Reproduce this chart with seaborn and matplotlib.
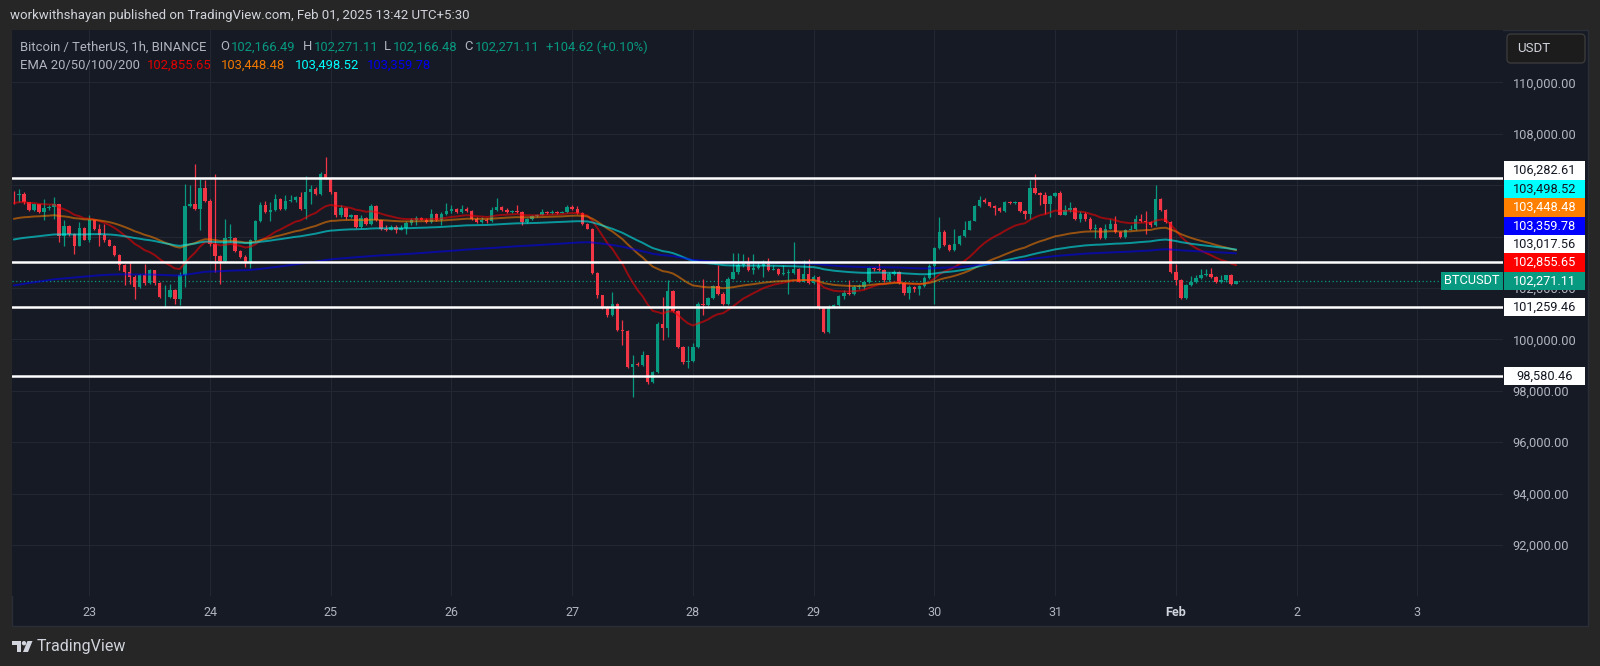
import matplotlib
matplotlib.use("Agg")
import matplotlib.pyplot as plt
import matplotlib.patches as mpatches
import matplotlib.transforms as mtransforms
import numpy as np
import pandas as pd
import seaborn as sns

# 1h candles, first one is Jan 22 09:00 (hour -15 counted from Jan 23 00:00)
FIRST_HOUR = -15
FIRST_OPEN = 105620

CLOSES = [
    105600, 105660, 105340, 105050, 105250, 104950, 105120, 105140, 105250, 104040,
    104400, 104110, 103650, 104330, 103870, 104630, 104280, 104070, 103850, 103650,
    103270, 102900, 102620, 102420, 102040, 102520, 102200, 102680, 102200, 101630,
    101660, 101930, 101580, 102520, 105180, 105250, 105080, 105890, 105400, 103720,
    103240, 103030, 103940, 103960, 103420, 103200, 102980, 103850, 104600, 105230,
    104950, 105050, 105470, 105080, 105400, 105430, 105530, 105080, 105730, 105860,
    105660, 106440, 106280, 105730, 104820, 105120, 104750,
    104820, 104370, 104730, 104500, 105180, 104630, 104300, 104260, 104370, 104240,
    104340, 104530, 104660, 104730, 104660, 104560, 104880, 104630, 104880, 104980,
    105080, 104950, 105080, 105010, 104690, 104560, 104650, 104590, 105040, 105140,
    105040, 104950, 104990, 104970, 104560, 104690, 104780, 104850, 104950, 104920,
    104950, 104920, 104950, 105140, 105080, 104920, 104500, 104300, 102590, 101710,
    101230, 100940, 101380, 100350, 100320, 98930, 99050, 99010, 99380, 98350,
    98740, 100590, 100450, 101880, 101100, 99710, 99100, 99160, 99710, 101390,
    101320, 101610, 102070, 101780, 101360, 102360, 102620, 102880, 102980, 102680,
    102770, 102850, 102940, 102710, 102750, 102550, 102570, 102590, 102750, 102250,
    102550, 102200, 102420, 101220, 100290, 101260, 101320, 101690, 101810, 101780,
    102030, 102050, 102230, 102770, 102720, 102710, 102290, 102550, 102620, 102200,
    101810, 102030, 101940, 102070, 102400, 102850, 103550, 104170, 103680, 103460,
    103720, 104020, 104260, 104620, 105180, 105440, 105340, 105180, 105100, 105010,
    105360, 105310, 105340, 105010, 104880, 105880, 105700, 105600,
    105270, 105570, 105700, 104840, 105050, 105100, 104690, 104880, 104690, 104300,
    104330, 103940, 104300, 104500, 104170, 103980, 104260, 104300, 104690, 104590,
    104560, 104430, 105470, 105050, 104560, 102620, 102290, 101610, 102130, 102250,
    102380, 102490, 102550, 102420, 102230, 102290, 102490, 102166.49, 102271.11,
]

HIGHS = [
    105790, 105855, 105730, 105360, 105270, 105270, 105470, 105210, 105530, 105270,
    104630, 104430, 104150, 104560, 104370, 104820, 104660, 104500, 104500, 103890,
    103680, 103330, 102940, 102990, 102490, 102550, 102940, 102750, 102710, 102230,
    102100, 102170, 101970, 102620, 106050, 105990, 106830, 106240, 106180, 105470,
    106440, 103290, 104690, 104500, 103970, 103460, 103270, 103910, 104630, 105340,
    105400, 105340, 105660, 105490, 105620, 105600, 105570, 105750, 106350, 105990,
    105920, 106500, 107090, 106310, 105750, 105210, 105140,
    104890, 104850, 104820, 104760, 105270, 105210, 104650, 104460, 104460, 104460,
    104430, 104590, 104720, 104780, 104760, 104720, 105080, 104920, 104950, 105300,
    105210, 105100, 105210, 105140, 105050, 104750, 104750, 104720, 105140, 105490,
    105180, 105100, 105040, 105230, 105010, 104720, 104850, 104890, 105080, 105010,
    105040, 105010, 105010, 105230, 105230, 105170, 104970, 104540, 104330, 102620,
    101740, 101260, 101840, 101400, 100740, 100350, 99380, 99120, 99540, 99410,
    98760, 100680, 101650, 102300, 101910, 101130, 99750, 99730, 99840, 101450,
    102360, 101650, 102120, 102900, 101840, 102420, 103360, 103360, 103330, 103200,
    103330, 103010, 103070, 103160, 102880, 102770, 102880, 102750, 103780, 102770,
    103070, 103140, 102490, 102460, 101260, 101320, 101390, 101710, 101910, 102290,
    102100, 102160, 102250, 102810, 102810, 102980, 102750, 102620, 102680, 102640,
    102230, 102100, 102060, 102120, 102460, 102940, 103590, 104750, 104240, 103720,
    104300, 104070, 104620, 104660, 105230, 105570, 105490, 105360, 105210, 105140,
    105400, 105390, 105390, 105360, 105050, 106180, 106440, 105730,
    105730, 105620, 105750, 105790, 105210, 105340, 105130, 105010, 104950, 104750,
    104500, 104370, 104500, 104690, 104790, 104200, 104300, 104430, 104850, 104880,
    105010, 104620, 106010, 105490, 105080, 104590, 102940, 102330, 102160, 102460,
    102490, 102720, 102750, 102770, 102460, 102490, 102510, 102550, 102271.11,
]

LOWS = [
    105270, 105340, 105270, 105010, 105010, 104920, 104630, 105050, 104690, 103780,
    103650, 104040, 103330, 103630, 103850, 103780, 104240, 103630, 103780, 103630,
    103240, 102680, 102100, 102160, 101580, 102000, 102100, 102170, 102100, 101610,
    101260, 101610, 101390, 101320, 102040, 105140, 105050, 104240, 105340, 103650,
    102620, 102170, 103010, 103780, 103390, 103160, 102810, 102770, 103810, 104560,
    104920, 104620, 105010, 105050, 105050, 105340, 105360, 105050, 104690, 105270,
    105600, 105600, 106240, 105660, 104750, 104750, 104690,
    104720, 104340, 104340, 104460, 104460, 104590, 104260, 104200, 104240, 104150,
    104240, 104110, 104460, 104430, 104630, 104540, 104540, 104590, 104430, 104820,
    104920, 104920, 104920, 104970, 104660, 104540, 104540, 104540, 104560, 105010,
    105010, 104920, 104920, 104920, 104430, 104540, 104660, 104760, 104820, 104880,
    104880, 104880, 104900, 104920, 105050, 104880, 104460, 104280, 102550, 101610,
    101200, 100870, 100910, 100320, 99770, 98870, 97770, 98970, 98970, 98280,
    98320, 98710, 99970, 100100, 101070, 99670, 99060, 98870, 99130, 99670,
    100930, 101300, 101580, 101710, 101320, 101320, 102330, 102550, 102810, 102640,
    102550, 102750, 102420, 102670, 102680, 102510, 102490, 101780, 102550, 102230,
    102230, 102160, 102160, 101190, 100260, 100260, 101220, 101300, 101580, 101740,
    101740, 101970, 101970, 102200, 102670, 102670, 102250, 102250, 102510, 102160,
    101710, 101580, 101840, 101710, 102030, 102360, 101390, 103520, 103650, 103420,
    103420, 103680, 103980, 104240, 104590, 105140, 105300, 105140, 104820, 104970,
    104970, 105270, 105280, 104970, 104690, 104690, 105660, 105210,
    104880, 104750, 105530, 104820, 104820, 104950, 104660, 104560, 104620, 104260,
    103940, 103910, 103910, 104280, 104140, 103950, 103940, 104240, 104260, 104560,
    104110, 104370, 104400, 105010, 104530, 102590, 102100, 101580, 101580, 102070,
    102200, 102330, 102460, 102380, 102200, 102200, 102250, 102130, 102166.48,
]

DAY_LABELS = ["23", "24", "25", "26", "27", "28", "29", "30", "31", "Feb", "2", "3"]
PRICE_TICKS = list(range(92000, 110001, 2000))
# these two sit fully under the price tags on the reference scale
HIDDEN_TICKS = [104000, 106000]

# drawn support / resistance levels
LEVELS = [106282.61, 103017.56, 101259.46, 98580.46]
LAST_PRICE = 102271.11

EMA_SPANS = [20, 50, 100, 200]
EMA_SEEDS = [105270, 104650, 103850, 102060]
EMA_TEXT = ["102,855.65", "103,448.48", "103,498.52", "103,359.78"]
EMA_VALUES = [102855.65, 103448.48, 103498.52, 103359.78]
EMA_COLORS = ["#ff0000", "#ff8000", "#00ffff", "#0000ff"]

UP, DOWN = "#089981", "#f23645"
BG, OUTER = "#161a25", "#262626"
TXT, MUTED = "#d1d4dc", "#b2b5be"

sns.set_theme(style="dark", rc={"axes.facecolor": BG, "figure.facecolor": OUTER})
plt.rcParams["font.family"] = ["Roboto", "DejaVu Sans"]

W, H = 1600, 666
fig = plt.figure(figsize=(W / 100, H / 100), dpi=100)
pix = mtransforms.Affine2D().scale(1.0 / W, -1.0 / H).translate(0, 1) + fig.transFigure

# chart panel
fig.add_artist(mpatches.Rectangle((11.7, 30), 1588 - 11.7, 626 - 30, transform=pix,
                                  facecolor=BG, edgecolor="#2a2e39", lw=1, zorder=-1))

ax = fig.add_axes([11.7 / W, 1 - 596 / H, (1503 - 11.7) / W, (596 - 30) / H])
ax.set_facecolor(BG)
for s in ax.spines.values():
    s.set_visible(False)

ymin, ymax = 90017, 112034
ax.set_xlim(-15.43, 281.05)
ax.set_ylim(ymin, ymax)

hours = np.arange(len(CLOSES)) + FIRST_HOUR
closes = np.array(CLOSES)
opens = np.concatenate([[FIRST_OPEN], closes[:-1]])
colors = [UP if c >= o else DOWN for o, c in zip(opens, closes)]
bottoms = np.minimum(opens, closes)
heights = np.maximum(np.abs(closes - opens), 35)

ax.vlines(hours, LOWS, HIGHS, colors=colors, lw=0.9, zorder=3)
ax.bar(hours, heights, bottom=bottoms, width=0.68, color=colors, linewidth=0, zorder=4)

for span, seed, col in zip(EMA_SPANS, EMA_SEEDS, EMA_COLORS):
    ema = pd.Series([seed] + CLOSES).ewm(span=span, adjust=False).mean().iloc[1:].values
    sns.lineplot(x=hours, y=ema, ax=ax, color=col, alpha=0.55, lw=1.4, zorder=5)

ax.axhline(LAST_PRICE, color=UP, lw=0.9, ls=(0, (1, 2)), zorder=2)
for lv in LEVELS:
    ax.axhline(lv, color="white", lw=1.8, zorder=6)

# grid + axes ticks
ax.set_xticks(np.arange(len(DAY_LABELS)) * 24)
ax.set_xticklabels(DAY_LABELS)
ax.set_yticks(PRICE_TICKS)
ax.set_yticklabels(["" if v in HIDDEN_TICKS else f"{v:,.2f}" for v in PRICE_TICKS])
ax.yaxis.tick_right()
ax.grid(True, color="#232733", lw=0.8)
ax.tick_params(axis="x", length=0, pad=7, labelcolor=MUTED, labelsize=9)
ax.tick_params(axis="y", length=0, pad=7, labelcolor=MUTED, labelsize=9.2)
for lab in ax.get_xticklabels():
    if lab.get_text() == "Feb":
        lab.set_fontweight("bold")
        lab.set_color(TXT)
ax.set_xlabel("")
ax.set_ylabel("")

# price tags on the scale, stacked upward when they overlap
tags = [(lv, "#ffffff", "#131722") for lv in LEVELS]
tags += [(v, c, "#131722" if c == "#00ffff" else "#ffffff") for v, c in zip(EMA_VALUES, EMA_COLORS)]
tags.append((LAST_PRICE, UP, "#ffffff"))
tags.sort(key=lambda t: t[0])
tag_h = 18.4 * (ymax - ymin) / 566
trans = mtransforms.blended_transform_factory(fig.transFigure, ax.transData)
prev = -1e9
for price, bg, fg in tags:
    pos = max(price, prev + tag_h)
    prev = pos
    ax.add_patch(mpatches.Rectangle((1504 / W, pos - tag_h / 2), 81 / W, tag_h, transform=trans,
                                    facecolor=bg, edgecolor="none", clip_on=False, zorder=10))
    ax.text(1544.5 / W, pos, f"{price:,.2f}", transform=trans, ha="center", va="center",
            color=fg, fontsize=9.2, zorder=11, clip_on=False)
    if price == LAST_PRICE:
        ax.add_patch(mpatches.Rectangle((1441 / W, pos - tag_h / 2), 62 / W, tag_h, transform=trans,
                                        facecolor=UP, edgecolor="none", clip_on=False, zorder=10))
        ax.text(1472 / W, pos, "BTCUSDT", transform=trans, ha="center", va="center",
                color="#ffffff", fontsize=9.2, zorder=11, clip_on=False)

# currency button
fig.add_artist(mpatches.FancyBboxPatch((1507, 34), 78, 29, transform=pix,
                                       boxstyle="round,pad=0,rounding_size=4",
                                       facecolor="#1c1c1c", edgecolor="#3a3a3a", lw=1, zorder=5))
fig.text(1517, 48.5, "USDT", transform=pix, color=TXT, fontsize=9.5, va="center", zorder=6)

# header + legend
fig.text(10, 16, "workwithshayan published on TradingView.com, Feb 01, 2025 13:42 UTC+5:30",
         transform=pix, color=TXT, fontsize=9.5, va="center")

line1 = [(20, "Bitcoin / TetherUS, 1h, BINANCE", MUTED), (220, "O", MUTED), (231, "102,166.49", UP),
         (303, "H", MUTED), (314, "102,271.11", UP), (384, "L", MUTED), (393, "102,166.48", UP),
         (464, "C", MUTED), (475, "102,271.11", UP), (546, "+104.62 (+0.10%)", UP)]
for x0, s, c in line1:
    fig.text(x0, 47, s, transform=pix, color=c, fontsize=9.4, va="center")

fig.text(20, 65, "EMA 20/50/100/200", transform=pix, color=MUTED, fontsize=9.4, va="center")
for x0, s, c in zip([147, 221, 295, 367], EMA_TEXT,
                    ["#e00000", "#f07800", "#00ffff", "#0000ee"]):
    fig.text(x0, 65, s, transform=pix, color=c, fontsize=9.4, va="center")

# TradingView footer logo
fig.add_artist(mpatches.Rectangle((12, 641), 9, 4, transform=pix, color=TXT, lw=0))
fig.add_artist(mpatches.Rectangle((16.5, 641), 4.5, 11, transform=pix, color=TXT, lw=0))
fig.add_artist(mpatches.Circle((24, 643.2), 2.2, transform=pix, color=TXT, lw=0))
fig.add_artist(mpatches.Polygon([(23, 652), (27.5, 641), (32.5, 641), (28, 652)], closed=True,
                                transform=pix, color=TXT, lw=0))
fig.text(37, 647, "TradingView", transform=pix, color=TXT, fontsize=11.5, va="center")

fig.savefig("out.png", dpi=100, facecolor=OUTER)
